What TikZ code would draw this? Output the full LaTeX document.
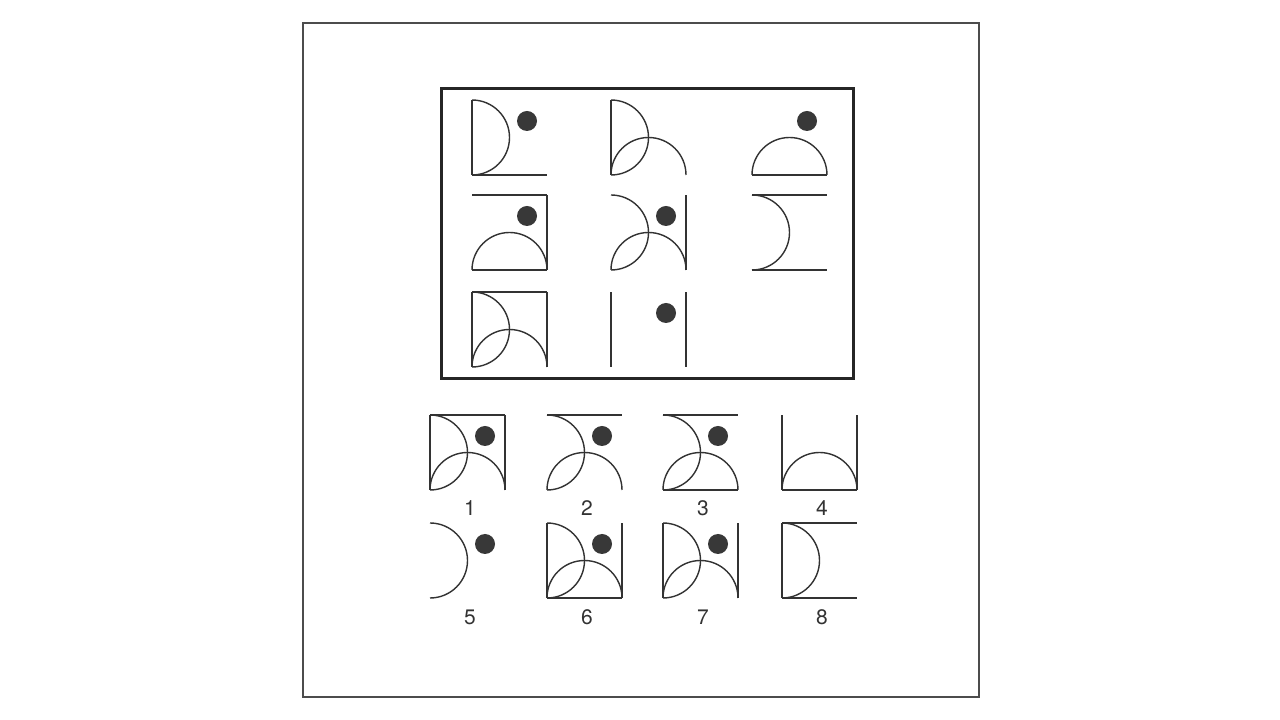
\documentclass[tikz,border=0pt]{standalone}
\usepackage{fontspec}
\setmainfont{TeX Gyre Heros}
\begin{document}
\begin{tikzpicture}[x=1pt,y=1pt,
  fig/.style={draw=black!80,line width=1.4pt},
  sL/.pic={\draw[fig] (0,0) -- (0,75);},
  sR/.pic={\draw[fig] (75,0) -- (75,75);},
  sT/.pic={\draw[fig] (0,75) -- (75,75);},
  sB/.pic={\draw[fig] (0,0) -- (75,0);},
  aD/.pic={\draw[fig] (0,75) arc (90:-90:37.5pt);},
  aU/.pic={\draw[fig] (0,0) arc (180:0:37.5pt);},
  pD/.pic={\fill[black!78] (55,54) circle (10pt);},
  lab/.style={font=\fontsize{21pt}{21pt}\selectfont,text=black!80}]
\useasboundingbox (0,0) rectangle (1280,720);
\fill[white] (0,0) rectangle (1280,720);
% outer frame
\draw[black!70,line width=1.3pt] (303,697) rectangle (979,23);
% matrix frame
\draw[black!85,line width=3pt] (441,631) rectangle (853,341);
% row 1
\path (472,545) pic{sL} pic{sB} pic{aD} pic{pD};
\path (611,545) pic{sL} pic{aD} pic{aU};
\path (752,545) pic{sB} pic{aU} pic{pD};
% row 2
\path (472,450) pic{sT} pic{sR} pic{sB} pic{aU} pic{pD};
\path (611,450) pic{sR} pic{aD} pic{aU} pic{pD};
\path (752,450) pic{sT} pic{sB} pic{aD};
% row 3
\path (472,353) pic{sT} pic{sL} pic{sR} pic{aD} pic{aU};
\path (611,353) pic{sL} pic{sR} pic{pD};
% options row 1
\path (430,230) pic{sT} pic{sL} pic{sR} pic{aD} pic{aU} pic{pD};
\path (547,230) pic{sT} pic{aD} pic{aU} pic{pD};
\path (663,230) pic{sT} pic{sB} pic{aD} pic{aU} pic{pD};
\path (782,230) pic{sL} pic{sR} pic{sB} pic{aU};
% options row 2
\path (430,122) pic{aD} pic{pD};
\path (547,122) pic{sL} pic{sR} pic{sB} pic{aD} pic{aU} pic{pD};
\path (663,122) pic{sL} pic{sR} pic{aD} pic{aU} pic{pD};
\path (782,122) pic{sT} pic{sB} pic{sL} pic{aD};
% labels
\node[lab] (l1) at (470,212) {1};
\node[lab] (l2) at (587,212) {2};
\node[lab] (l3) at (703,212) {3};
\node[lab] (l4) at (822,212) {4};
\node[lab] (l5) at (470,103) {5};
\node[lab] (l6) at (587,103) {6};
\node[lab] (l7) at (703,103) {7};
\node[lab] (l8) at (822,103) {8};
\end{tikzpicture}
\end{document}
